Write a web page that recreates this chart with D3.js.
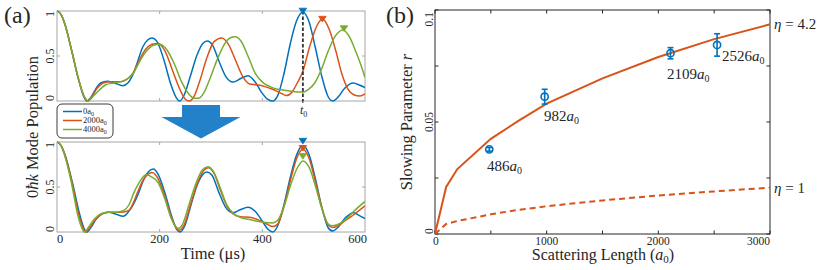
<!DOCTYPE html>
<html><head><meta charset="utf-8">
<script src="https://cdn.jsdelivr.net/npm/d3@7"></script>
<style>
body{margin:0;background:#fff}
svg{display:block}
text{font-family:"Liberation Serif","Times New Roman",Times,serif;fill:#262626}
</style>
</head><body>
<svg id="c" width="830" height="270" font-family="'Liberation Serif','Times New Roman',Times,serif"></svg>
<script>
// ---------- data ----------
const legendLabels = ["0", "2000", "4000"];
const seriesColors = ["#0072BD", "#D95319", "#77AC30"];
const timeTicks = [0, 200, 400, 600];
const popTicks = [0, 0.5, 1];

const topBlue = [[0,1],[8,0.96],[15,0.86],[29,0.55],[42,0.24],[52,0.05],[58,0],[66,0.04],[75,0.13],[85,0.2],[98,0.22],[112,0.2],[128,0.17],[138,0.2],[146,0.27],[156,0.42],[167,0.6],[177,0.68],[185,0.70],[195,0.66],[208,0.46],[222,0.18],[232,0.04],[239,0],[248,0.07],[260,0.28],[272,0.5],[284,0.64],[293,0.667],[303,0.62],[315,0.45],[328,0.28],[343,0.21],[358,0.25],[372,0.28],[385,0.22],[398,0.1],[410,0.02],[420,0],[430,0.06],[442,0.3],[455,0.65],[466,0.88],[479,0.985],[491,0.88],[503,0.6],[516,0.27],[528,0.05],[537,0],[547,0.04],[560,0.14],[577,0.2],[590,0.175],[600,0.15]];
const topOrange = [[0,1],[8,0.96],[15,0.86],[29,0.55],[42,0.24],[53,0.05],[60,0],[68,0.05],[78,0.14],[90,0.2],[105,0.215],[125,0.215],[138,0.25],[148,0.31],[160,0.45],[172,0.57],[185,0.63],[197,0.64],[210,0.56],[225,0.34],[240,0.12],[250,0.02],[258,0],[266,0.04],[278,0.22],[292,0.48],[306,0.66],[321,0.70],[334,0.63],[348,0.45],[362,0.27],[375,0.19],[390,0.18],[405,0.16],[420,0.13],[435,0.09],[447,0.06],[458,0.1],[468,0.2],[479,0.33],[492,0.6],[505,0.82],[517,0.91],[530,0.8],[543,0.56],[555,0.3],[567,0.13],[578,0.07],[590,0.055],[600,0.08]];
const topGreen = [[0,1],[8,0.96],[15,0.86],[29,0.55],[42,0.24],[53,0.05],[61,0],[70,0.05],[82,0.12],[95,0.18],[110,0.2],[125,0.215],[138,0.25],[148,0.3],[160,0.43],[175,0.56],[188,0.62],[200,0.63],[214,0.57],[228,0.42],[243,0.21],[258,0.07],[268,0.03],[276,0.03],[286,0.09],[298,0.25],[312,0.46],[326,0.63],[337,0.7],[347,0.715],[358,0.67],[372,0.5],[386,0.31],[400,0.21],[415,0.16],[430,0.13],[450,0.115],[468,0.1],[480,0.1],[490,0.13],[502,0.2],[515,0.35],[528,0.55],[542,0.72],[557,0.79],[570,0.71],[582,0.55],[592,0.4],[600,0.26]];

const bottomBlue = [[0,1],[8,0.96],[15,0.87],[30,0.55],[44,0.2],[52,0.05],[58,0],[66,0.05],[76,0.14],[87,0.2],[100,0.22],[114,0.2],[129,0.175],[140,0.23],[150,0.32],[158,0.42],[168,0.57],[178,0.67],[188,0.70],[197,0.64],[210,0.44],[223,0.18],[233,0.03],[240,0],[249,0.07],[261,0.3],[273,0.52],[284,0.64],[292,0.667],[302,0.63],[314,0.46],[328,0.28],[343,0.215],[358,0.25],[372,0.275],[386,0.23],[400,0.12],[411,0.03],[420,0],[430,0.07],[442,0.3],[455,0.62],[467,0.86],[479,0.96],[491,0.86],[503,0.6],[516,0.27],[528,0.05],[537,0.01],[547,0.05],[562,0.16],[578,0.215],[590,0.18],[600,0.15]];
const bottomOrange = [[0,1],[8,0.96],[15,0.86],[30,0.53],[43,0.18],[51,0.04],[56,0],[64,0.05],[75,0.14],[87,0.2],[100,0.22],[125,0.22],[140,0.24],[150,0.34],[158,0.455],[168,0.58],[177,0.64],[185,0.66],[197,0.59],[210,0.4],[223,0.16],[233,0.04],[239,0.02],[247,0.07],[260,0.3],[272,0.52],[284,0.67],[295,0.715],[306,0.65],[318,0.47],[331,0.29],[343,0.2],[358,0.17],[375,0.165],[390,0.14],[405,0.1],[420,0.06],[430,0.09],[442,0.28],[455,0.58],[467,0.82],[479,0.92],[491,0.82],[503,0.57],[516,0.27],[528,0.08],[537,0.05],[548,0.07],[562,0.13],[580,0.2],[600,0.29]];
const bottomGreen = [[0,1],[8,0.96],[15,0.85],[28,0.55],[40,0.2],[48,0.05],[53,0],[61,0.05],[72,0.14],[85,0.2],[100,0.22],[115,0.22],[130,0.24],[140,0.3],[150,0.44],[158,0.53],[166,0.6],[173,0.635],[185,0.61],[197,0.55],[210,0.37],[222,0.16],[231,0.06],[236,0.04],[244,0.08],[257,0.3],[270,0.53],[283,0.69],[294,0.726],[305,0.67],[318,0.49],[331,0.3],[343,0.21],[358,0.16],[375,0.14],[390,0.12],[405,0.105],[420,0.1],[430,0.13],[442,0.28],[455,0.52],[467,0.7],[479,0.79],[491,0.72],[503,0.52],[516,0.26],[528,0.09],[535,0.07],[545,0.08],[560,0.13],[580,0.24],[600,0.34]];

const topMarkers = [[479,1.0],[517,0.91],[559,0.805]];
const bottomMarkers = [[479,1.01],[479,0.93],[479,0.84]];
const t0 = 479;

const scatLen = [0,100,200,500,750,1000,1500,2000,2500,3000];
const rEta42 = [0,0.021,0.029,0.0425,0.0506,0.0582,0.0695,0.079,0.087,0.0936];
const rEta1 = [0,0.0045,0.0058,0.0088,0.0108,0.0124,0.015,0.0172,0.019,0.0207];
const expA = [486,982,2109,2526];
const expR = [0.0378,0.0613,0.0807,0.0844];
const expErr = [0.0008,0.0033,0.0025,0.005];
const expLabels = ["486","982","2109","2526"];
const lenTicks = [0,1000,2000,3000];
const lenMinor = [0,500,1000,1500,2000,2500,3000];
const rTicks = [0,0.05,0.1];
const rMinor = [0,0.025,0.05,0.075,0.1];

// ---------- drawing ----------
const svg = d3.select("#c");
const gridGray = "#a6a6a6", dark = "#262626";

const xA = d3.scaleLinear([0,600],[57,365]);
const yTop = d3.scaleLinear([0,1],[101,11]);
const yBot = d3.scaleLinear([0,1],[232,142]);

const defs = svg.append("defs");
[["clipTop",yTop],["clipBot",yBot]].forEach(([id,y])=>{
  defs.append("clipPath").attr("id",id).append("rect")
    .attr("x",xA(0)).attr("y",y(1)-6).attr("width",xA(600)-xA(0)).attr("height",y(0)-y(1)+7);
});

function tri(g, x, y, color){
  g.append("path").attr("d",`M${x-3.8},${y-2.8}L${x+3.8},${y-2.8}L${x},${y+2.8}Z`)
   .attr("fill",color).attr("stroke",color).attr("stroke-width",0.8);
}

function panelA(y, series, clip){
  const g = svg.append("g");
  g.append("rect").attr("x",xA(0)).attr("y",y(1)).attr("width",xA(600)-xA(0)).attr("height",y(0)-y(1))
    .attr("fill","none").attr("stroke",gridGray).attr("stroke-width",1);
  [200,400].forEach(t=>{
    g.append("line").attr("x1",xA(t)).attr("x2",xA(t)).attr("y1",y(0)).attr("y2",y(0)-3).attr("stroke",gridGray);
    g.append("line").attr("x1",xA(t)).attr("x2",xA(t)).attr("y1",y(1)).attr("y2",y(1)+3).attr("stroke",gridGray);
  });
  g.append("line").attr("x1",xA(0)).attr("x2",xA(0)+3).attr("y1",y(0.5)).attr("y2",y(0.5)).attr("stroke",gridGray);
  g.append("line").attr("x1",xA(600)).attr("x2",xA(600)-3).attr("y1",y(0.5)).attr("y2",y(0.5)).attr("stroke",gridGray);
  popTicks.forEach(v=>{
    const anchor = v===0 ? "start" : (v===1 ? "end" : "middle");
    g.append("text").attr("transform",`translate(54,${y(v)}) rotate(-90)`)
      .attr("text-anchor",anchor).attr("font-size",12).text(v);
  });
  const line = d3.line().x(d=>xA(d[0])).y(d=>y(d[1])).curve(d3.curveMonotoneX);
  const cg = g.append("g").attr("clip-path",`url(#${clip})`);
  series.forEach((s,i)=>{
    cg.append("path").attr("d",line(s)).attr("fill","none")
      .attr("stroke",seriesColors[i]).attr("stroke-width",1.5);
  });
  return g;
}

const gTop = panelA(yTop,[topBlue,topOrange,topGreen],"clipTop");
gTop.append("line").attr("x1",xA(t0)).attr("x2",xA(t0)).attr("y1",yTop(topMarkers[0][1])).attr("y2",yTop(0))
  .attr("stroke","#333").attr("stroke-width",1.8).attr("stroke-dasharray","3.5,2");
topMarkers.forEach((m,i)=>tri(gTop,xA(m[0]),yTop(m[1]),seriesColors[i]));
gTop.append("line").attr("x1",xA(t0)).attr("x2",xA(t0)).attr("y1",yTop(0)).attr("y2",yTop(0)+2).attr("stroke",dark);
const t0t = gTop.append("text").attr("x",xA(t0)-3).attr("y",114).attr("font-size",12);
t0t.append("tspan").attr("font-style","italic").text("t");
t0t.append("tspan").attr("font-size",8).attr("dy",2.5).text("0");

const gBot = panelA(yBot,[bottomBlue,bottomOrange,bottomGreen],"clipBot");
bottomMarkers.slice().reverse().forEach((m,j)=>{const i=2-j; tri(gBot,xA(m[0]),yBot(m[1]),seriesColors[i]);});
timeTicks.forEach((t,i)=>{
  const anchor = i===0 ? "start" : (i===timeTicks.length-1 ? "end" : "middle");
  gBot.append("text").attr("x",xA(t)+(i===timeTicks.length-1?2:0)).attr("y",243).attr("text-anchor",anchor)
    .attr("font-size",12.5).text(t);
});
svg.append("text").attr("x",213).attr("y",259).attr("text-anchor","middle").attr("font-size",16.5).text("Time (μs)");

const yl = svg.append("text").attr("transform","translate(38,127) rotate(-90)").attr("text-anchor","middle").attr("font-size",16.5);
yl.append("tspan").text("0");
yl.append("tspan").attr("font-style","italic").text("ħk");
yl.append("tspan").text(" Mode Population");

// legend
const lg = svg.append("g");
lg.append("rect").attr("x",57).attr("y",104).attr("width",56).attr("height",34).attr("rx",5)
  .attr("fill","#fff").attr("stroke",dark).attr("stroke-width",0.9);
legendLabels.forEach((lab,i)=>{
  const yy = 111.5 + i*9;
  lg.append("line").attr("x1",63).attr("x2",82).attr("y1",yy).attr("y2",yy).attr("stroke",seriesColors[i]).attr("stroke-width",1.5);
  const t = lg.append("text").attr("x",83).attr("y",yy+2.5).attr("font-size",8.5);
  t.append("tspan").text(lab+"a");
  t.append("tspan").attr("font-size",6).attr("dy",1.5).text("0");
});

// arrow
svg.append("path").attr("d","M182,105 L220,105 L220,117 L240.5,117 L201,138.5 L161.5,117 L182,117 Z").attr("fill","#2381c9");

// panel labels
svg.append("text").attr("x",4).attr("y",23).attr("font-size",24).text("(a)");
svg.append("text").attr("x",386).attr("y",23).attr("font-size",24).text("(b)");

// ---------- panel b ----------
const xB = d3.scaleLinear([0,3000],[435,770]);
const yB = d3.scaleLinear([0,0.1],[234,10]);
const gb = svg.append("g");
gb.append("rect").attr("x",xB(0)).attr("y",yB(0.1)).attr("width",xB(3000)-xB(0)).attr("height",yB(0)-yB(0.1))
  .attr("fill","none").attr("stroke",dark).attr("stroke-width",1);
lenMinor.forEach(v=>{
  gb.append("line").attr("x1",xB(v)).attr("x2",xB(v)).attr("y1",yB(0)).attr("y2",yB(0)-3.5).attr("stroke",dark);
  gb.append("line").attr("x1",xB(v)).attr("x2",xB(v)).attr("y1",yB(0.1)).attr("y2",yB(0.1)+3.5).attr("stroke",dark);
});
rMinor.forEach(v=>{
  gb.append("line").attr("x1",xB(0)).attr("x2",xB(0)+3.5).attr("y1",yB(v)).attr("y2",yB(v)).attr("stroke",dark);
  gb.append("line").attr("x1",xB(3000)).attr("x2",xB(3000)-3.5).attr("y1",yB(v)).attr("y2",yB(v)).attr("stroke",dark);
});
lenTicks.forEach((v,i)=>{
  const anchor = i===0 ? "start" : (i===lenTicks.length-1 ? "end" : "middle");
  gb.append("text").attr("x",xB(v)+(i===0?-2:0)).attr("y",245).attr("text-anchor",anchor).attr("font-size",11.5).text(v);
});
rTicks.forEach((v,i)=>{
  const anchor = i===0 ? "start" : (i===rTicks.length-1 ? "end" : "middle");
  gb.append("text").attr("transform",`translate(433,${yB(v)+(i===rTicks.length-1?2:0)}) rotate(-90)`)
    .attr("text-anchor",anchor).attr("font-size",11.5).text(v);
});
const lineB = d3.line().x(d=>xB(d[0])).y(d=>yB(d[1]));
gb.append("path").attr("d",lineB(scatLen.map((a,i)=>[a,rEta1[i]]))).attr("fill","none")
  .attr("stroke","#D95319").attr("stroke-width",2).attr("stroke-dasharray","6,4");
gb.append("path").attr("d",lineB(scatLen.map((a,i)=>[a,rEta42[i]]))).attr("fill","none")
  .attr("stroke","#D95319").attr("stroke-width",2);
expA.forEach((a,i)=>{
  const x = xB(a), c="#0072BD";
  gb.append("line").attr("x1",x).attr("x2",x).attr("y1",yB(expR[i]-expErr[i])).attr("y2",yB(expR[i]+expErr[i])).attr("stroke",c).attr("stroke-width",1.6);
  [expR[i]-expErr[i],expR[i]+expErr[i]].forEach(v=>{
    gb.append("line").attr("x1",x-3).attr("x2",x+3).attr("y1",yB(v)).attr("y2",yB(v)).attr("stroke",c).attr("stroke-width",1.6);
  });
  gb.append("circle").attr("cx",x).attr("cy",yB(expR[i])).attr("r",3.6).attr("fill","none").attr("stroke",c).attr("stroke-width",1.6);
});
const labPos = [[487,171],[544,121],[667,79],[722,61]];
expLabels.forEach((l,i)=>{
  const t = gb.append("text").attr("x",labPos[i][0]).attr("y",labPos[i][1]).attr("font-size",15);
  t.append("tspan").text(l);
  t.append("tspan").attr("font-style","italic").text("a");
  t.append("tspan").attr("font-size",10).attr("dy",3).text("0");
});
[["4.2",rEta42[rEta42.length-1]],["1",rEta1[rEta1.length-1]]].forEach(([v,r])=>{
  const t = gb.append("text").attr("x",774).attr("y",yB(r)+5).attr("font-size",15);
  t.append("tspan").attr("font-style","italic").text("η");
  t.append("tspan").text(" = "+v);
});
const xl = svg.append("text").attr("x",603).attr("y",260).attr("text-anchor","middle").attr("font-size",16);
xl.append("tspan").text("Scattering Length (");
xl.append("tspan").attr("font-style","italic").text("a");
xl.append("tspan").attr("font-size",11).attr("dy",3).text("0");
xl.append("tspan").attr("dy",-3).text(")");
const yl2 = svg.append("text").attr("transform","translate(412,122) rotate(-90)").attr("text-anchor","middle").attr("font-size",16.5);
yl2.append("tspan").text("Slowing Parameter ");
yl2.append("tspan").attr("font-style","italic").text("r");
</script>
</body></html>
